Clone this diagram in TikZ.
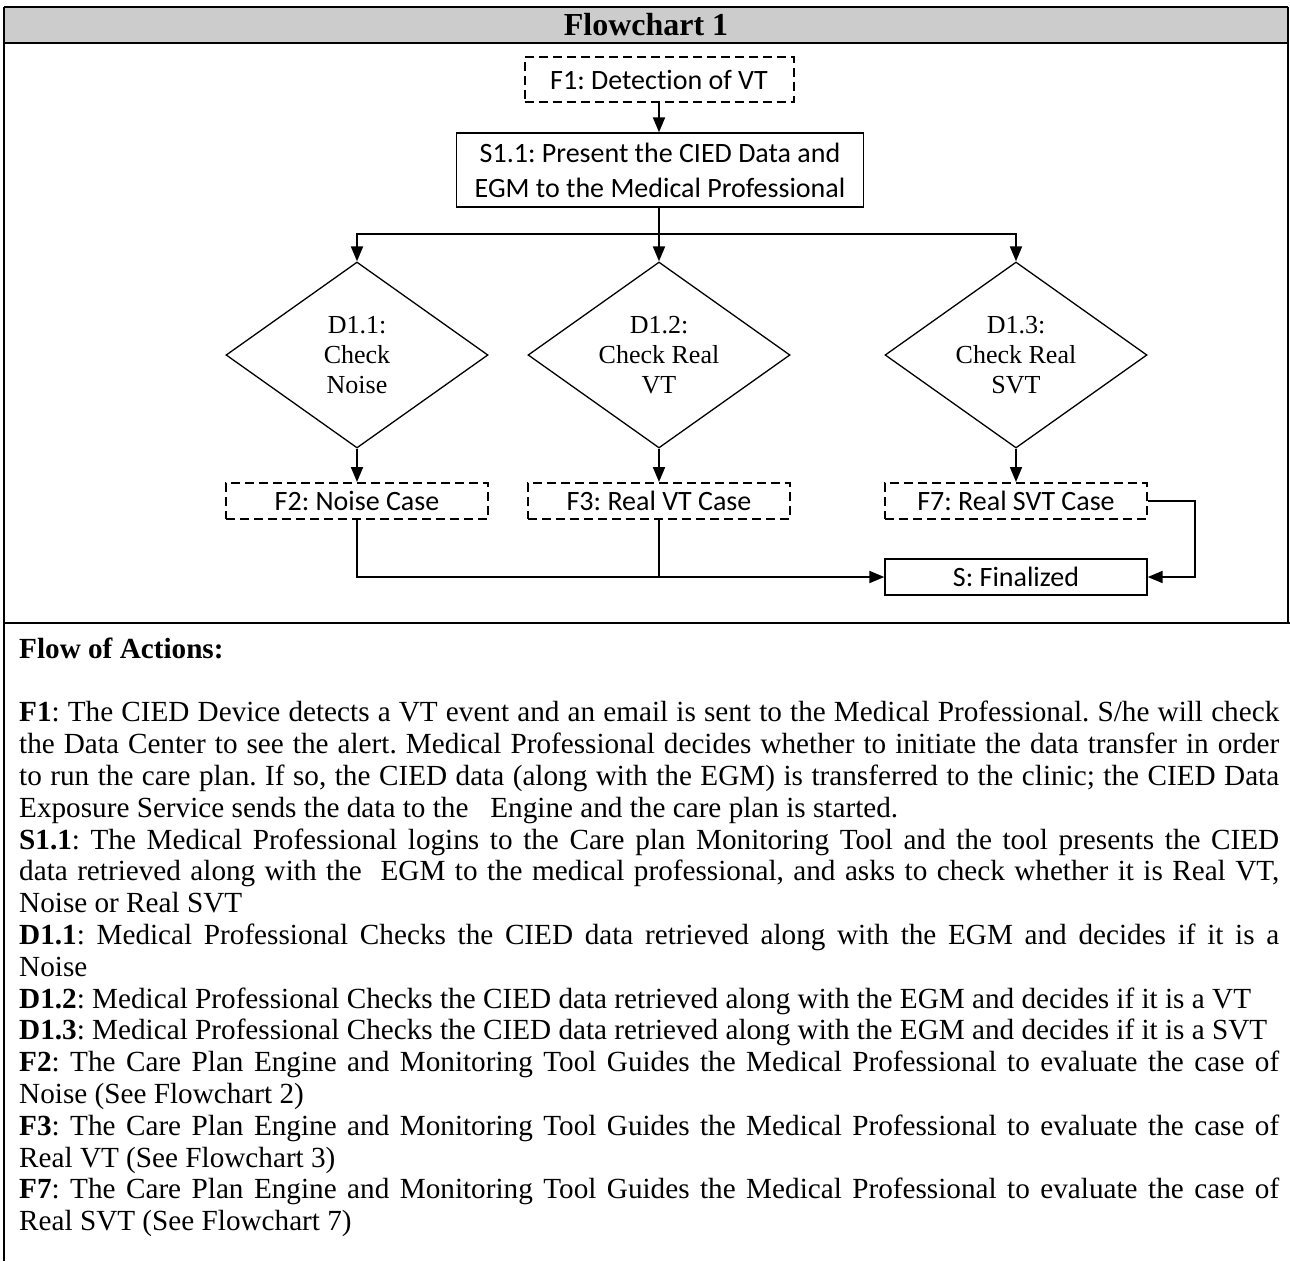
\documentclass[tikz,border=0pt]{standalone}
\usepackage{fontspec}
\setmainfont{Liberation Serif}
\newfontfamily\boxfont[Ligatures=NoCommon]{Carlito}
\usetikzlibrary{shapes.geometric,arrows.meta}
\definecolor{headgray}{RGB}{204,204,204}

\begin{document}
\frenchspacing
\begin{tikzpicture}[x=1pt,y=-1pt,
  frame/.style={line width=2.6pt},
  procbox/.style={draw,line width=1.4pt,minimum width=262pt,minimum height=36pt,
    inner sep=0pt,align=center,font=\boxfont\fontsize{28}{35}\selectfont},
  subflow/.style={procbox,line width=2pt,dash pattern=on 9pt off 5pt},
  decision/.style={draw,diamond,line width=1.3pt,minimum width=262pt,minimum height=186pt,
    aspect=1.41,inner sep=0pt,align=center,font=\fontsize{26}{30}\selectfont},
  link/.style={line width=2pt},
  arrow/.style={link,-{Triangle[length=15pt,width=12pt]}}
]
\useasboundingbox (0,0) rectangle (1290,1261);

% table frame and header band
\fill[headgray] (4,7) rectangle (1288,43);
\draw[frame] (4,7) -- (1288,7);
\draw[frame] (4,43) -- (1288,43);
\draw[frame] (4,623) -- (1290,623);
\draw[frame] (4,7) -- (4,1261);
\draw[frame] (1288,7) -- (1288,623);
\node[font=\bfseries\fontsize{32}{36}\selectfont] (title) at (646,25) {Flowchart 1};

% flowchart
\node[subflow,minimum width=269pt,minimum height=45pt] (f1) at (659,79.5) {F1: Detection of VT};
\node[procbox,minimum width=407pt,minimum height=74pt] (s11) at (660,170)
  {S1.1: Present the CIED Data and\\EGM to the Medical Professional};

\node[decision] (d11) at (357,355) {D1.1:\\Check\\Noise};
\node[decision] (d12) at (659,355) {D1.2:\\Check Real\\VT};
\node[decision] (d13) at (1016,355) {D1.3:\\Check Real\\SVT};

\node[subflow] (f2) at (357,501) {F2: Noise Case};
\node[subflow] (f3) at (659,501) {F3: Real VT Case};
\node[subflow] (f7) at (1016,501) {F7: Real SVT Case};
\node[procbox] (fin) at (1016,577) {S: Finalized};

\coordinate (split) at (659,234);
\coordinate (bend) at (1195,501);

\draw[arrow] (f1.south -| split) -- (s11.north -| split);
\draw[link] (s11.south -| split) -- (split);
\draw[arrow] (split) -| (d11.north);
\draw[arrow] (split) -- (d12.north);
\draw[arrow] (split) -| (d13.north);

\draw[arrow] (d11.south) -- (f2.north);
\draw[arrow] (d12.south) -- (f3.north);
\draw[arrow] (d13.south) -- (f7.north);

\draw[arrow] (f2.south) |- (fin.west);
\draw[link] (f3.south) -- (f3.south |- fin.west);
\draw[arrow] (f7.east) -- (bend) |- (fin.east);

% description of the steps
\node[anchor=north west,inner sep=0pt,text width=1260pt,align=justify,
  font=\fontsize{29.2}{31.8}\selectfont] (notes) at (19,637.5) {%
\textbf{Flow of Actions:}\par
\mbox{}\par
\textbf{F1}: The CIED Device detects a VT event and an email is sent to the Medical Professional. S/he will check\linebreak
the Data Center to see the alert. Medical Professional decides whether to initiate the data transfer in order\linebreak
to run the care plan. If so, the CIED data (along with the EGM) is transferred to the clinic; the CIED Data\linebreak
Exposure Service sends the data to the\ \ \ Engine and the care plan is started.\par
\textbf{S1.1}: The Medical Professional logins to the Care plan Monitoring Tool and the tool presents the CIED\linebreak
data retrieved along with the\ \ EGM to the medical professional, and asks to check whether it is Real VT,\linebreak
Noise or Real SVT\par
\textbf{D1.1}: Medical Professional Checks the CIED data retrieved along with the EGM and decides if it is a\linebreak
Noise\par
\textbf{D1.2}: Medical Professional Checks the CIED data retrieved along with the EGM and decides if it is a VT\par
\textbf{D1.3}: Medical Professional Checks the CIED data retrieved along with the EGM and decides if it is a SVT\par
\textbf{F2}: The Care Plan Engine and Monitoring Tool Guides the Medical Professional to evaluate the case of\linebreak
Noise (See Flowchart 2)\par
\textbf{F3}: The Care Plan Engine and Monitoring Tool Guides the Medical Professional to evaluate the case of\linebreak
Real VT (See Flowchart 3)\par
\textbf{F7}: The Care Plan Engine and Monitoring Tool Guides the Medical Professional to evaluate the case of\linebreak
Real SVT (See Flowchart 7)\par
};
\end{tikzpicture}
\end{document}
